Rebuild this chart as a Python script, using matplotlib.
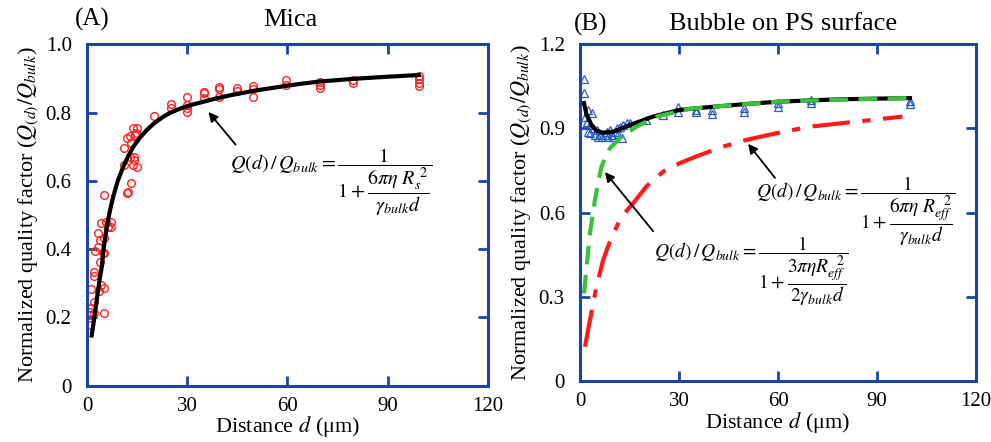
import numpy as np
import matplotlib
matplotlib.use("Agg")
import matplotlib.pyplot as plt

plt.rcParams["font.family"] = ["Liberation Serif", "DejaVu Serif"]
plt.rcParams["mathtext.fontset"] = "stix"

SPINE = "#1a44a8"

# ---- panel A: mica ----
mica_d = [1.0, 0.8, 1.0, 1.3, 1.3, 2.0, 2.1, 2.0, 2.2, 2.3, 3.3, 3.3, 3.8, 3.5, 4.3,
          4.0, 4.3, 4.8, 5.2, 5.2, 5.2, 5.2, 5.2, 5.7, 6.2, 7.2, 7.2,
          11.2, 11.2, 11.9, 12.0, 12.2, 13.0, 13.2, 13.0, 13.2, 13.7, 13.7, 14.2, 14.0,
          14.7, 15.1, 15.1, 14.5,
          19.9, 25.0, 25.0, 30.0, 30.0, 30.0, 30.0, 35.0, 35.0, 35.0,
          39.6, 39.6, 39.6, 44.9, 44.9, 49.8, 49.8, 49.8, 59.7, 59.7,
          69.6, 69.6, 69.6, 79.5, 79.5, 99.3, 99.3, 99.3, 99.3]
mica_q = [0.178, 0.207, 0.215, 0.227, 0.282, 0.214, 0.246, 0.320, 0.334, 0.395, 0.407, 0.446,
          0.363, 0.277, 0.295, 0.427, 0.476, 0.388, 0.432, 0.388, 0.214, 0.285, 0.559, 0.480,
          0.466, 0.480, 0.466,
          0.695, 0.646, 0.725, 0.563, 0.568, 0.730, 0.710, 0.670, 0.593, 0.754, 0.646, 0.670,
          0.660, 0.739, 0.756, 0.642, 0.735,
          0.790, 0.813, 0.824, 0.847, 0.822, 0.803, 0.813, 0.856, 0.842, 0.860,
          0.868, 0.875, 0.847, 0.871, 0.864, 0.878, 0.870, 0.847, 0.895, 0.881,
          0.890, 0.880, 0.871, 0.895, 0.886, 0.907, 0.897, 0.888, 0.878]

mica_fit_d = [1.4, 2.2, 2.9, 3.6, 4.4, 5.1, 5.9, 6.8, 7.8, 9.2, 10.8, 12.2, 13.8, 15.7,
              17.8, 20.0, 22.7, 25.0, 27.7, 31.0, 34.6, 38.5, 42.6, 50.0, 57.4, 63.0,
              69.6, 80.0, 90.0, 99.3]
mica_fit_q = [0.147, 0.200, 0.250, 0.300, 0.347, 0.410, 0.464, 0.510, 0.552, 0.600, 0.640,
              0.670, 0.699, 0.725, 0.748, 0.768, 0.787, 0.800, 0.811, 0.822, 0.831, 0.841,
              0.850, 0.864, 0.875, 0.883, 0.891, 0.899, 0.905, 0.910]

# ---- panel B: bubble on PS ----
ps_d = [1.2, 1.2, 2.5, 1.5, 2.0, 3.0, 4.0, 2.5, 3.0, 4.5, 5.5, 6.1, 6.6, 8.1, 9.1, 9.6,
        10.6, 11.1, 12.1, 13.1, 14.1, 15.1, 10.0, 7.5, 11.6, 5.0, 3.5, 8.6, 12.6,
        20.1, 25.2, 29.7, 29.7, 35.0, 35.0, 40.1, 40.1, 49.8, 49.8,
        60.0, 60.0, 70.0, 70.0, 100.0, 100.0]
ps_q = [1.075, 1.025, 0.966, 0.942, 0.924, 0.912, 0.900, 0.888, 0.883, 0.877, 0.871, 0.877,
        0.871, 0.888, 0.894, 0.877, 0.888, 0.900, 0.906, 0.912, 0.918, 0.918, 0.871, 0.875,
        0.880, 0.895, 0.955, 0.870, 0.865,
        0.930, 0.948, 0.977, 0.960, 0.966, 0.958, 0.966, 0.953, 0.972, 0.960,
        0.990, 0.977, 1.000, 0.990, 0.996, 0.987]

ps_fit_d = [1.2, 2.0, 3.5, 5.0, 7.0, 10.0, 15.1, 22.1, 30.2, 40.3, 50.4, 60.0, 70.0, 80.0, 100.0]
ps_fit_q = [0.990, 0.948, 0.912, 0.891, 0.885, 0.888, 0.912, 0.942, 0.966, 0.977, 0.987,
            0.995, 1.000, 1.004, 1.008]

half_d = [1.2, 2.0, 3.0, 4.5, 6.5, 9.1, 12.6, 17.1, 23.2, 33.2, 43.3, 60.0, 73.5, 99.7]
half_q = [0.312, 0.408, 0.526, 0.645, 0.764, 0.830, 0.871, 0.906, 0.942, 0.970, 0.980,
          0.995, 1.001, 1.008]

full_d = [1.5, 3.0, 5.0, 7.0, 9.6, 12.6, 16.1, 20.1, 25.2, 30.2, 35.2, 43.3, 50.4, 59.6,
          69.5, 83.6, 97.7]
full_q = [0.122, 0.217, 0.336, 0.431, 0.514, 0.586, 0.633, 0.693, 0.746, 0.776, 0.800,
          0.835, 0.859, 0.883, 0.906, 0.924, 0.942]

x_ticks = [0, 30, 60, 90, 120]
a_yticks = [0, 0.2, 0.4, 0.6, 0.8, 1.0]
a_ylabels = ["0", "0.2", "0.4", "0.6", "0.8", "1.0"]
b_yticks = [0, 0.3, 0.6, 0.9, 1.2]
b_ylabels = ["0", "0.3", "0.6", "0.9", "1.2"]

fig = plt.figure(figsize=(9.91, 4.42), dpi=100)
ax1 = fig.add_axes([0.0878, 0.1274, 0.4046, 0.7724])
ax2 = fig.add_axes([0.5853, 0.138, 0.3996, 0.762])


def style_axis(ax, yticks, ylabels, ymax):
    ax.set_xlim(0, 120)
    ax.set_ylim(0, ymax)
    ax.set_xticks(x_ticks)
    ax.set_xticklabels([str(t) for t in x_ticks])
    ax.set_yticks(yticks)
    ax.set_yticklabels(ylabels)
    ax.tick_params(direction="in", length=7, width=2, color=SPINE,
                   top=True, right=True, labelsize=15)
    ax.tick_params(axis="x", pad=8)
    ax.tick_params(axis="y", pad=11)
    for s in ax.spines.values():
        s.set_color(SPINE)
        s.set_linewidth(2.2)
    ax.set_xlabel("Distance $d$ (\u03bcm)", fontsize=16, labelpad=-1)
    ax.set_ylabel("Normalized quality factor ($Q_{(d)}/Q_{bulk}$)", fontsize=16, labelpad=3)


# panel A
ax1.plot(mica_d, mica_q, "o", mfc="none", mec="#ff2020", ms=5.5, mew=1.0, zorder=2)
ax1.plot(mica_fit_d, mica_fit_q, "-", color="black", lw=3, zorder=3)
style_axis(ax1, a_yticks, a_ylabels, 1.0)
ax1.annotate("", xy=(35.8, 0.808), xytext=(45, 0.70),
             arrowprops=dict(arrowstyle="-|>", color="black", lw=1.3, mutation_scale=14))
ax1.text(73, 0.595, r"$Q(d)\,/\,Q_{bulk}=\dfrac{1}{1+\dfrac{6\pi\eta\ R_s^{\ 2}}{\gamma_{bulk}d}}$",
         fontsize=14.5, ha="center", va="center")
fig.text(0.093, 0.955, "(A)", fontsize=18, ha="center", va="center")
fig.text(0.293, 0.955, "Mica", fontsize=19, ha="center", va="center")

# panel B
ax2.plot(ps_d, ps_q, "^", mfc="none", mec="#2a5cc8", ms=6, mew=0.9, zorder=2)
ax2.plot(full_d, full_q, color="#ff1a1a", lw=3, dashes=(9, 3, 2, 3), zorder=3)
ax2.plot(ps_fit_d, ps_fit_q, "-", color="black", lw=3, zorder=3)
ax2.plot(half_d, half_q, color="#3cc03c", lw=3, dashes=(4.5, 2.5), zorder=4)
style_axis(ax2, b_yticks, b_ylabels, 1.2)
ax2.annotate("", xy=(7.0, 0.752), xytext=(22.7, 0.526),
             arrowprops=dict(arrowstyle="-|>", color="black", lw=1.3, mutation_scale=14))
ax2.annotate("", xy=(50.4, 0.853), xytext=(59.6, 0.716),
             arrowprops=dict(arrowstyle="-|>", color="black", lw=1.3, mutation_scale=14))
ax2.text(83.5, 0.605,
         r"$Q(d)\,/\,Q_{bulk}=\dfrac{1}{1+\dfrac{6\pi\eta\ R_{eff}^{\ \ 2}}{\gamma_{bulk}d}}$",
         fontsize=14, ha="center", va="center")
ax2.text(52, 0.39,
         r"$Q(d)\,/\,Q_{bulk}=\dfrac{1}{1+\dfrac{3\pi\eta R_{eff}^{\ \ 2}}{2\gamma_{bulk}d}}$",
         fontsize=14, ha="center", va="center")
fig.text(0.596, 0.945, "(B)", fontsize=18, ha="center", va="center")
fig.text(0.790, 0.945, "Bubble on PS surface", fontsize=19, ha="center", va="center")

fig.savefig("out.png", dpi=100)
